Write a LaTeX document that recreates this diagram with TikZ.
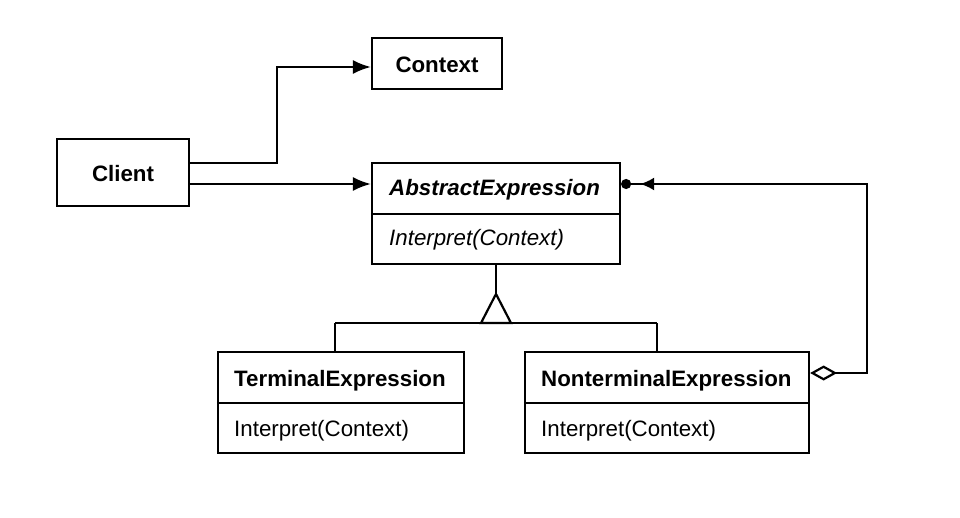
\documentclass[tikz,border=0pt]{standalone}
\usepackage{fontspec}
\setmainfont{Liberation Sans}
\usetikzlibrary{arrows.meta}
\begin{document}
\begin{tikzpicture}[x=1pt,y=-1pt,
  box/.style={draw, line width=2.2pt, inner sep=0pt, fill=white},
  txt/.style={font=\fontsize{22.3}{26}\selectfont, inner sep=0pt, anchor=base west},
  ctxt/.style={font=\fontsize{22.3}{26}\selectfont\bfseries, inner sep=0pt},
  conn/.style={line width=2.2pt},
  filledtip/.style={-{Latex[length=18pt,width=14pt]}}
]
\useasboundingbox (0,0) rectangle (960,518);
% class boxes
\node[box, minimum width=130pt, minimum height=51pt] (ctx) at (437,63.5) {};
\node[ctxt] (ctxlabel) at (437,65) {Context};
\node[box, minimum width=132pt, minimum height=67pt] (client) at (123,172.5) {};
\node[ctxt] (clientlabel) at (123,174) {Client};

\node[box, minimum width=248pt, minimum height=101pt] (ae) at (496,213.5) {};
\draw[conn] (ae.west |- 0,214) -- (ae.east |- 0,214);
\node[txt, font=\fontsize{22.3}{26}\selectfont\bfseries\itshape] (aetitle) at (389,196) {AbstractExpression};
\node[txt, font=\fontsize{22.3}{26}\selectfont\itshape] (aeop) at (389,246) {Interpret(Context)};

\node[box, minimum width=246pt, minimum height=101pt] (te) at (341,402.5) {};
\draw[conn] (te.west |- 0,403) -- (te.east |- 0,403);
\node[txt, font=\fontsize{22.3}{26}\selectfont\bfseries] (tetitle) at (234,386) {TerminalExpression};
\node[txt] (teop) at (234,436) {Interpret(Context)};

\node[box, minimum width=284pt, minimum height=101pt] (nte) at (667,402.5) {};
\draw[conn] (nte.west |- 0,403) -- (nte.east |- 0,403);
\node[txt, font=\fontsize{22.3}{26}\selectfont\bfseries] (ntetitle) at (541,386) {NonterminalExpression};
\node[txt] (nteop) at (541,436) {Interpret(Context)};

% Client -> Context
\draw[conn, filledtip] (client.east |- 0,163) -- (277,163) |- (ctx.west |- 0,67);
% Client -> AbstractExpression
\draw[conn, filledtip] (client.east |- 0,184) -- (ae.west |- 0,184);

% inheritance
\coordinate (tip) at (ae.south |- 0,294);
\coordinate (bl) at (335,323);
\coordinate (br) at (657,323);
\draw[conn] (ae.south) -- (tip);
\draw[conn] (tip) -- ++(-15,29) -- ++(30,0) -- cycle;
\draw[conn] (bl) -- (br);
\draw[conn] (bl) -- (bl |- te.north);
\draw[conn] (br) -- (br |- nte.north);

% aggregation
\draw[conn, {Diamond[open,fill=white,length=27pt,width=15pt]}-{Latex[length=14pt,width=13pt,sep=9pt]Circle[length=10pt]}]
  (nte.east |- 0,373) -- (867,373) |- (ae.east |- 0,184);
\end{tikzpicture}
\end{document}
